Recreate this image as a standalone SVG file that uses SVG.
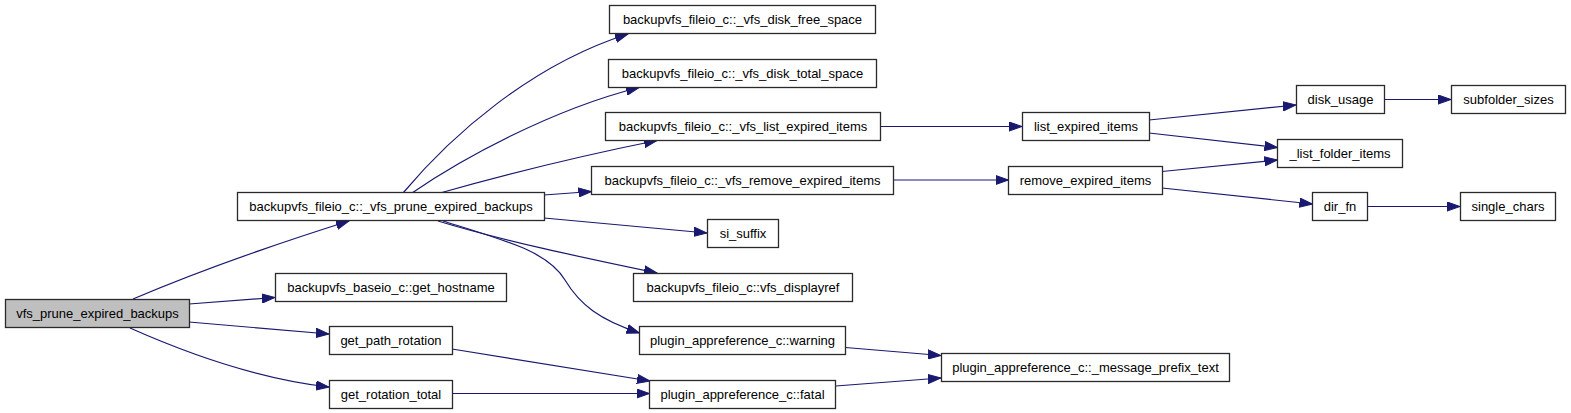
<svg xmlns="http://www.w3.org/2000/svg" width="1571" height="413" viewBox="0 0 1571 413">
<style>
.n rect{fill:#fff;stroke:#2a2a2a;stroke-width:1.3}
.n.root rect{fill:#bfbfbf}
.n text{font-family:"Liberation Sans",Arial,sans-serif;font-size:13px;fill:#000;text-anchor:middle}
.e path{fill:none;stroke:#191970;stroke-width:1.2;marker-end:url(#ah)}
</style>
<defs>
<marker id="ah" markerWidth="14" markerHeight="10" refX="13" refY="5" orient="auto" markerUnits="userSpaceOnUse">
<path d="M0,0.4 L13,5 L0,9.6 z" fill="#191970" stroke="#191970" stroke-width="1"/>
</marker>
</defs>
<rect width="1571" height="413" fill="#fff"/>
<g id="edges" class="e">
<path d="M133,299 C180,279 260,249 349,221"/>
<path d="M189,304 L275,297.5"/>
<path d="M189,322 L329,334"/>
<path d="M130,328 C175,348 250,378 329,387"/>
<path d="M403,193 C450,137 530,65 628,34"/>
<path d="M412,193 C460,160 550,110 639,87.5"/>
<path d="M440,193 C500,176 580,156 657,140.5"/>
<path d="M544,195 L591.5,191.5"/>
<path d="M544,218 L707,233"/>
<path d="M438,221 C500,240 580,257 657,273"/>
<path d="M443,221 C510,242 548,252 565,280 C580,305 600,320 639.5,333"/>
<path d="M452,349 L650,381"/>
<path d="M452,393.5 L649.5,393.5"/>
<path d="M880,126.5 L1022,126.5"/>
<path d="M893.5,180 L1008.5,180"/>
<path d="M845.5,347.5 L941,355.5"/>
<path d="M835.5,386 L941,378"/>
<path d="M1149,120 L1296,105"/>
<path d="M1149,133 L1277.5,147.5"/>
<path d="M1162,171.5 L1277.5,160"/>
<path d="M1162,188 L1312.5,204"/>
<path d="M1384,99.5 L1451,99.5"/>
<path d="M1367.5,206.5 L1460,206.5"/>
</g>
<g id="n0" class="n root"><rect x="5.5" y="299.5" width="184" height="28"/><text x="97.5" y="318">vfs_prune_expired_backups</text></g>
<g id="n1" class="n"><rect x="237.5" y="192.5" width="307" height="28"/><text x="391" y="211">backupvfs_fileio_c::_vfs_prune_expired_backups</text></g>
<g id="n2" class="n"><rect x="275.5" y="273.5" width="231" height="28"/><text x="391" y="292">backupvfs_baseio_c::get_hostname</text></g>
<g id="n3" class="n"><rect x="329.5" y="326.5" width="123" height="28"/><text x="391" y="345">get_path_rotation</text></g>
<g id="n4" class="n"><rect x="329.5" y="380.5" width="123" height="28"/><text x="391" y="399">get_rotation_total</text></g>
<g id="n5" class="n"><rect x="609.5" y="5.5" width="266" height="28"/><text x="742.5" y="24">backupvfs_fileio_c::_vfs_disk_free_space</text></g>
<g id="n6" class="n"><rect x="608.5" y="59.5" width="268" height="28"/><text x="742.5" y="78">backupvfs_fileio_c::_vfs_disk_total_space</text></g>
<g id="n7" class="n"><rect x="605.5" y="112.5" width="275" height="28"/><text x="743" y="131">backupvfs_fileio_c::_vfs_list_expired_items</text></g>
<g id="n8" class="n"><rect x="591.5" y="166.5" width="302" height="28"/><text x="742.5" y="185">backupvfs_fileio_c::_vfs_remove_expired_items</text></g>
<g id="n9" class="n"><rect x="707.5" y="219.5" width="71" height="28"/><text x="743" y="238">si_suffix</text></g>
<g id="n10" class="n"><rect x="633.5" y="273.5" width="219" height="28"/><text x="743" y="292">backupvfs_fileio_c::vfs_displayref</text></g>
<g id="n11" class="n"><rect x="639.5" y="326.5" width="206" height="28"/><text x="742.5" y="345">plugin_appreference_c::warning</text></g>
<g id="n12" class="n"><rect x="649.5" y="380.5" width="186" height="28"/><text x="742.5" y="399">plugin_appreference_c::fatal</text></g>
<g id="n13" class="n"><rect x="1022.5" y="112.5" width="127" height="28"/><text x="1086" y="131">list_expired_items</text></g>
<g id="n14" class="n"><rect x="1008.5" y="166.5" width="154" height="28"/><text x="1085.5" y="185">remove_expired_items</text></g>
<g id="n15" class="n"><rect x="941.5" y="353.5" width="288" height="28"/><text x="1085.5" y="372">plugin_appreference_c::_message_prefix_text</text></g>
<g id="n16" class="n"><rect x="1296.5" y="85.5" width="88" height="28"/><text x="1340.5" y="104">disk_usage</text></g>
<g id="n17" class="n"><rect x="1277.5" y="139.5" width="125" height="28"/><text x="1340" y="158">_list_folder_items</text></g>
<g id="n18" class="n"><rect x="1312.5" y="192.5" width="55" height="28"/><text x="1340" y="211">dir_fn</text></g>
<g id="n19" class="n"><rect x="1451.5" y="85.5" width="114" height="28"/><text x="1508.5" y="104">subfolder_sizes</text></g>
<g id="n20" class="n"><rect x="1460.5" y="192.5" width="95" height="28"/><text x="1508" y="211">single_chars</text></g>
</svg>
